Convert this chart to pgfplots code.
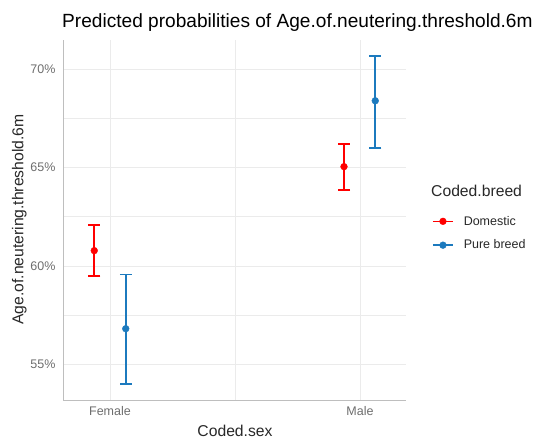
\documentclass[border=0pt]{standalone}
\usepackage{pgfplots}
\usepackage{pgfplotstable}
\pgfplotsset{compat=1.18}
\usepackage{fontspec}
\setmainfont{Liberation Sans}
\definecolor{dom}{RGB}{255,0,0}
\definecolor{pure}{RGB}{28,122,190}
\definecolor{gridc}{RGB}{235,235,235}
\definecolor{tickc}{RGB}{110,110,110}
\definecolor{axc}{RGB}{190,190,190}
\definecolor{labc}{RGB}{40,40,40}
\pgfplotstableread{
x y ep em
0.937 60.78 1.31 1.30
1.936 65.05 1.15 1.19
}\domtab
\pgfplotstableread{
x y ep em
1.063 56.81 2.75 2.80
2.061 68.40 2.29 2.39
}\puretab
\begin{document}
\begin{tikzpicture}
\path[use as bounding box] (0,0) rectangle (536bp,441bp);
\begin{axis}[
  at={(63bp,40.7bp)}, anchor=south west,
  scale only axis, width=343bp, height=360.3bp,
  xmin=0.812, xmax=2.184, ymin=53.17, ymax=71.49,
  xtick={1,2}, xticklabels={Female,Male},
  minor xtick={1.5},
  ytick={55,60,65,70}, yticklabels={55\%,60\%,65\%,70\%},
  minor ytick={57.5,62.5,67.5},
  grid=both,
  major grid style={gridc, line width=0.9bp},
  minor grid style={gridc, line width=0.7bp},
  axis x line*=bottom, axis y line*=left,
  axis line style={axc, line width=1bp, -},
  major tick length=0pt, minor tick length=0pt,
  tick label style={font=\fontsize{12.5bp}{14bp}\selectfont, text=tickc},
  yticklabel style={xshift=-4bp},
  xticklabel style={yshift=-3bp},
  legend image code/.code={\draw[line width=1.6bp,#1] (0bp,0bp) -- (20bp,0bp); \fill[#1] (10bp,0bp) circle (3.4bp);},
  legend style={at={(axis description cs:1.067,0.523)}, anchor=north west, draw=none, fill=none,
    text=labc, font=\fontsize{12.5bp}{14bp}\selectfont, row sep=9.3bp,
    /tikz/every odd column/.append style={column sep=8bp}},
  legend cell align=left,
]
\addplot[draw=none, mark=none, forget plot,
  error bars/.cd, y dir=both, y explicit,
  error bar style={line width=1.6bp, draw=dom, solid},
  error mark options={rotate=90, mark size=6bp, line width=1.6bp, draw=dom, solid}]
  table[x=x, y=y, y error plus=ep, y error minus=em] {\domtab};
\addplot[draw=none, mark=none, forget plot,
  error bars/.cd, y dir=both, y explicit,
  error bar style={line width=1.6bp, draw=pure, solid},
  error mark options={rotate=90, mark size=6bp, line width=1.6bp, draw=pure, solid}]
  table[x=x, y=y, y error plus=ep, y error minus=em] {\puretab};
\addplot[only marks, mark=*, mark size=3.4bp, mark options={fill=dom, draw=dom}, forget plot]
  table[x=x, y=y] {\domtab};
\addplot[only marks, mark=*, mark size=3.4bp, mark options={fill=pure, draw=pure}, forget plot]
  table[x=x, y=y] {\puretab};
\addlegendimage{dom}
\addlegendentry{Domestic}
\addlegendimage{pure}
\addlegendentry{Pure breed}
\end{axis}
\node[anchor=base west, text=black, font=\fontsize{19.1bp}{22bp}\selectfont, inner sep=0pt] at (62bp,413bp) {Predicted probabilities of Age.of.neutering.threshold.6m};
\node[anchor=base, text=labc, font=\fontsize{15.7bp}{18bp}\selectfont, inner sep=0pt] at (235bp,5bp) {Coded.sex};
\node[rotate=90, anchor=base, text=labc, font=\fontsize{15.7bp}{18bp}\selectfont, inner sep=0pt] at (23.4bp,221.5bp) {Age.of.neutering.threshold.6m};
\node[anchor=base west, text=labc, font=\fontsize{15.7bp}{18bp}\selectfont, inner sep=0pt] at (431bp,244bp) {Coded.breed};
\end{tikzpicture}
\end{document}
